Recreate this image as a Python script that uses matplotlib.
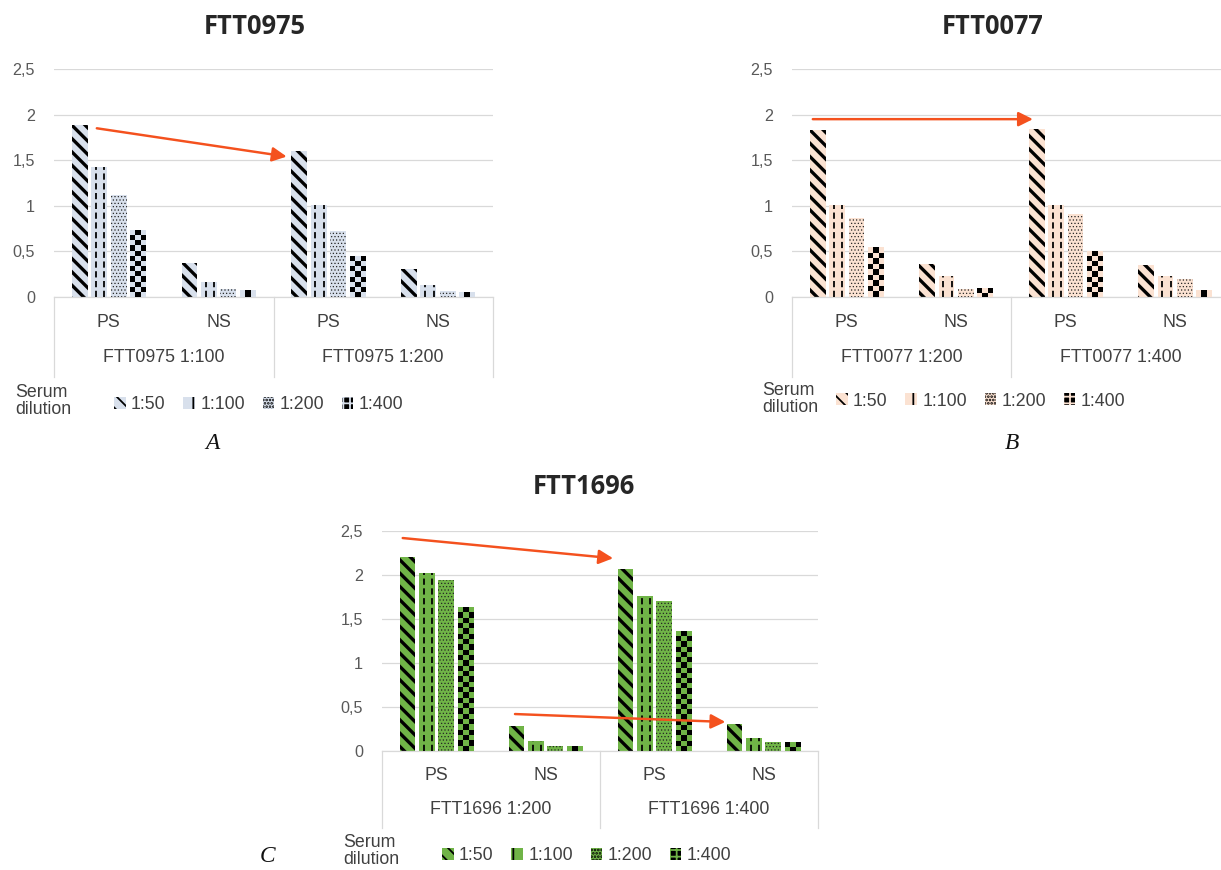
import numpy as np
import matplotlib
matplotlib.use("Agg")
import matplotlib.pyplot as plt
from matplotlib.colors import ListedColormap
from matplotlib.patches import Patch

# Figure size in pixels, drawn at 80 dpi so the hatch density fits
W, H, DPI = 1221, 870, 80

categories = ["PS", "NS", "PS", "NS"]
dilutions = ["1:50", "1:100", "1:200", "1:400"]
y_ticks = [0, 0.5, 1, 1.5, 2, 2.5]
y_tick_labels = ["0", "0,5", "1", "1,5", "2", "2,5"]

# rows = serum dilution, columns = categories
ftt0975_groups = ["FTT0975 1:100", "FTT0975 1:200"]
ftt0975_values = [
    [1.89, 0.37, 1.60, 0.31],
    [1.42, 0.16, 1.01, 0.13],
    [1.12, 0.09, 0.72, 0.07],
    [0.73, 0.07, 0.44, 0.05],
]

ftt0077_groups = ["FTT0077 1:200", "FTT0077 1:400"]
ftt0077_values = [
    [1.83, 0.36, 1.84, 0.35],
    [1.01, 0.23, 1.01, 0.23],
    [0.87, 0.09, 0.91, 0.20],
    [0.54, 0.09, 0.50, 0.07],
]

ftt1696_groups = ["FTT1696 1:200", "FTT1696 1:400"]
ftt1696_values = [
    [2.20, 0.28, 2.07, 0.31],
    [2.02, 0.11, 1.76, 0.15],
    [1.94, 0.06, 1.70, 0.10],
    [1.63, 0.05, 1.36, 0.10],
]

GRID = "#d9d9d9"
TXT = "#404040"
ARROW = "#f4511e"
SANS = "Liberation Sans"
STRIPE_LW = 3.0

fig = plt.figure(figsize=(W / DPI, H / DPI), dpi=DPI)


def fx(x):
    return x / W


def fy(y):
    return 1 - y / H


def set_hatch_lw(patch, lw):
    if hasattr(patch, "set_hatch_linewidth"):
        patch.set_hatch_linewidth(lw)


def draw_panel(box, values, groups, fill, title, title_x, title_y,
               letter, letter_xy, legend_xy, serum_xy, arrows):
    left, top, right, bottom = box
    ax = fig.add_axes([fx(left), fy(bottom), fx(right - left), (bottom - top) / H])
    ax.set_xlim(-0.5, 3.5)
    ax.set_ylim(0, 2.5)
    for s in ["left", "right", "top"]:
        ax.spines[s].set_visible(False)
    ax.spines["bottom"].set_color(GRID)
    ax.spines["bottom"].set_linewidth(1.1)
    ax.set_yticks(y_ticks)
    ax.set_yticklabels(y_tick_labels, fontfamily=SANS, fontsize=14.5, color="#595959")
    ax.tick_params(axis="y", length=0, pad=17)
    ax.set_xticks([])
    ax.grid(axis="y", color=GRID, lw=1.1, zorder=0)
    ax.set_axisbelow(True)

    x = np.arange(len(categories))
    width, step = 0.145, 0.177
    for i, dil in enumerate(dilutions):
        off = (i - 1.5) * step
        if i == 0:
            with plt.rc_context({"hatch.linewidth": STRIPE_LW}):
                c = ax.bar(x + off, values[i], width, color=fill, edgecolor="black",
                           lw=0, hatch="\\\\", zorder=2)
            for p in c:
                set_hatch_lw(p, STRIPE_LW)
        elif i == 1:
            c = ax.bar(x + off, values[i], width, color=fill, lw=0, zorder=2)
            for p in c:
                x0, w, h = p.get_x(), p.get_width(), p.get_height()
                ax.vlines([x0 + 0.3 * w, x0 + 0.82 * w], 0, h, colors="black",
                          lw=1.6, linestyles=(0, (3.5, 2)), zorder=3)
        elif i == 2:
            with plt.rc_context({"hatch.linewidth": 0.6}):
                c = ax.bar(x + off, values[i], width, color=fill, edgecolor="#222222",
                           lw=0, hatch="....", zorder=2)
            for p in c:
                set_hatch_lw(p, 0.6)
        else:
            c = ax.bar(x + off, values[i], width, color="black", lw=0, zorder=2)
            cmap = ListedColormap([fill, "black"])
            for p in c:
                x0, w, h = p.get_x(), p.get_width(), p.get_height()
                p0 = ax.transData.transform((x0, 0))
                p1 = ax.transData.transform((x0 + w, h))
                cell = (p1[0] - p0[0]) / 3
                nrows = max(1, int(round((p1[1] - p0[1]) / cell)))
                board = np.add.outer(np.arange(nrows), np.arange(3)) % 2
                ax.imshow(board, cmap=cmap, extent=(x0, x0 + w, 0, h), origin="lower",
                          interpolation="nearest", aspect="auto", zorder=3, vmin=0, vmax=1)
    ax.set_xlim(-0.5, 3.5)
    ax.set_ylim(0, 2.5)

    # two-level category axis
    tr = ax.get_xaxis_transform()
    for xv in [-0.5, 1.5, 3.5]:
        ax.plot([xv, xv], [0, -0.35], transform=tr, color=GRID, lw=1.1, clip_on=False)
    for i, cat in enumerate(categories):
        ax.text(i, -0.11, cat, transform=tr, ha="center", va="center",
                fontfamily=SANS, fontsize=16, color=TXT)
    for j, g in enumerate(groups):
        ax.text(2 * j + 0.5, -0.265, g, transform=tr, ha="center", va="center",
                fontfamily=SANS, fontsize=16, color=TXT)

    # arrows
    for start, end in arrows:
        ax.annotate("", xy=end, xytext=start, annotation_clip=False,
                    arrowprops=dict(arrowstyle="-|>,head_length=0.6,head_width=0.3",
                                    color=ARROW, lw=2.2, mutation_scale=18,
                                    shrinkA=0, shrinkB=0), zorder=5)

    # legend
    with plt.rc_context({"hatch.linewidth": 1.6}):
        handles = [
            Patch(facecolor=fill, edgecolor="black", hatch="\\\\", lw=0),
            Patch(facecolor=fill, edgecolor="black", hatch="|", lw=0),
            Patch(facecolor=fill, edgecolor="black", hatch="....", lw=0),
            Patch(facecolor="black", edgecolor=fill, hatch="++", lw=0),
        ]
        ax.legend(handles, dilutions, ncol=4, loc="center left",
                  bbox_to_anchor=(fx(legend_xy[0]), fy(legend_xy[1])),
                  bbox_transform=fig.transFigure, frameon=False, borderpad=0,
                  borderaxespad=0, handlelength=0.65, handleheight=0.65,
                  handletextpad=0.3, columnspacing=1.0,
                  prop={"family": SANS, "size": 16}, labelcolor=TXT)
    fig.text(fx(serum_xy[0]), fy(serum_xy[1]), "Serum\ndilution", ha="left", va="center",
             fontfamily=SANS, fontsize=16, color=TXT, linespacing=1.05)

    fig.text(fx(title_x), fy(title_y), title, ha="center", va="center",
             fontfamily="Open Sans", fontweight="bold", fontsize=23, color="#262626")
    fig.text(fx(letter_xy[0]), fy(letter_xy[1]), letter, ha="center", va="center",
             fontfamily="Liberation Serif", fontstyle="italic", fontsize=21, color="#111111")
    return ax


draw_panel((54, 69, 493, 297), ftt0975_values, ftt0975_groups, "#d8e0ec",
           "FTT0975", 255, 27, "A", (212, 443), (114, 405), (15, 401),
           [((-0.11, 1.85), (1.62, 1.54))])

draw_panel((792, 69, 1230, 297), ftt0077_values, ftt0077_groups, "#fbe2d2",
           "FTT0077", 993, 27, "B", (1012, 443), (836, 401), (762, 399),
           [((-0.31, 1.95), (1.70, 1.95))])

draw_panel((382, 531, 818, 751), ftt1696_values, ftt1696_groups, "#70b447",
           "FTT1696", 584, 487, "C", (268, 857), (442, 856), (343, 851),
           [((-0.31, 2.42), (1.62, 2.19)), ((0.72, 0.42), (2.65, 0.33))])

fig.savefig("out.png", dpi=DPI, facecolor="white")
